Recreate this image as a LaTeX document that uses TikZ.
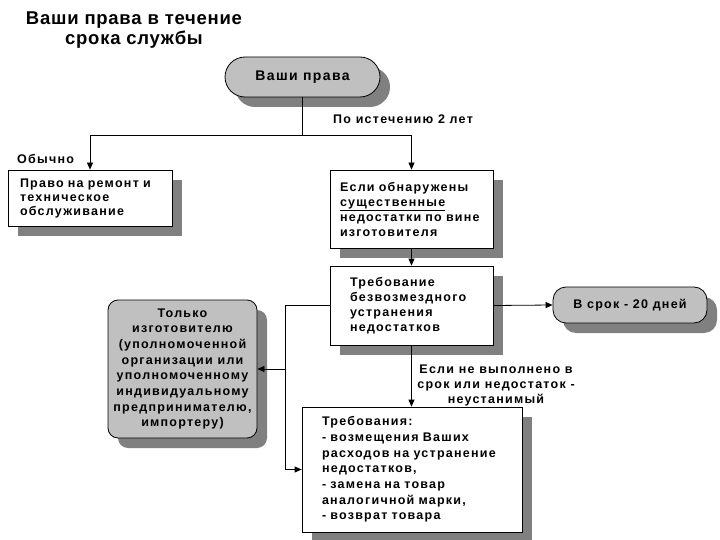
\documentclass[tikz,border=0pt]{standalone}
\usepackage{fontspec}
\setmainfont{Liberation Sans}
\newfontfamily\bodyfont[LetterSpace=10]{Liberation Sans}
\newfontfamily\titlefont[LetterSpace=4]{Liberation Sans}
\usetikzlibrary{arrows.meta,shadows}
\definecolor{boxgray}{HTML}{C0C0C0}
\definecolor{shadowgray}{HTML}{808080}
\begin{document}
\begin{tikzpicture}[x=1pt,y=-1pt,
  every node/.style={font=\bodyfont\bfseries\fontsize{12.5}{15}\selectfont},
  shad/.style={drop shadow={shadow xshift=10pt,shadow yshift=-10pt,fill=shadowgray,opacity=1}},
  plainbox/.style={draw=black,fill=white,line width=0.8pt,shad,align=left,inner ysep=0pt},
  graybox/.style={draw=black,fill=boxgray,line width=0.8pt,shad,align=center,inner sep=0pt},
  lbl/.style={inner sep=0pt},
  arr/.style={-{Triangle[length=7pt,width=6pt]},line width=0.8pt},
  ln/.style={line width=0.8pt}
]
\useasboundingbox (0,0) rectangle (720,540);
% title
\node[lbl,align=center,font=\titlefont\bfseries\fontsize{18.5}{20}\selectfont] (title) at (134,30) {Ваши права в течение\\срока службы};
% pill top
\node[graybox,rounded corners=20pt,minimum width=155pt,minimum height=40pt,font=\bodyfont\bfseries\fontsize{14}{15}\selectfont] (p1) at (302.5,77) {Ваши права};
% box1
\node[plainbox,text width=140pt,inner xsep=12pt,minimum height=56pt,font=\bodyfont\bfseries\fontsize{12.5}{14}\selectfont] (b1) at (90,198) {Право на ремонт и\\техническое\\обслуживание};
% box2
\node[plainbox,text width=143pt,inner xsep=10pt,minimum height=78pt] (b2) at (411.5,209) {Если обнаружены\\\underline{существенные}\\недостатки по вине\\изготовителя};
% box3
\node[plainbox,text width=123pt,inner xsep=20pt,minimum height=79pt] (b3) at (411.5,305.5) {Требование\\безвозмездного\\устранения\\недостатков};
% pill2
\node[graybox,rounded corners=13pt,minimum width=154pt,minimum height=36pt] (p2) at (630,305) {В срок - 20 дней};
% only box
\node[graybox,rounded corners=10pt,minimum width=149pt,minimum height=138pt,font=\bodyfont\bfseries\fontsize{12.5}{15.7}\selectfont] (t) at (182.5,369) {Только\\изготовителю\\(уполномоченной\\организации или\\уполномоченному\\индивидуальному\\предпринимателю,\\импортеру)};
% box4
\node[plainbox,text width=180pt,inner xsep=20pt,minimum height=125pt,font=\bodyfont\bfseries\fontsize{12.5}{15.7}\selectfont] (b4) at (412,469.5) {Требования:\\- возмещения Ваших\\расходов на устранение\\недостатков,\\- замена на товар\\аналогичной марки,\\- возврат товара};
% labels
\node[lbl,anchor=west] (l1) at (333,119) {По истечению 2 лет};
\node[lbl,anchor=west] (l2) at (17,159) {Обычно};
\node[lbl,align=center] (l3) at (496,385) {Если не выполнено в\\срок или недостаток -\\неустанимый};
% connectors
\coordinate (j1) at (302.5,135);
\coordinate (j2) at (285,305.5);
\coordinate (j3) at (285,369);
\draw[ln] (p1.south) -- (j1);
\draw[arr] (j1) -| (b1.north);
\draw[arr] (j1) -| (b2.north);
\draw[arr] (b2.south) -- (b3.north);
\draw[arr] (b3.east) -- (p2.west);
\draw[arr] (b3.south) -- (b3.south |- b4.north);
\draw[arr] (b3.west) -- (j2) |- (b4.west);
\draw[arr] (j3) -- (t.east);
\end{tikzpicture}
\end{document}
